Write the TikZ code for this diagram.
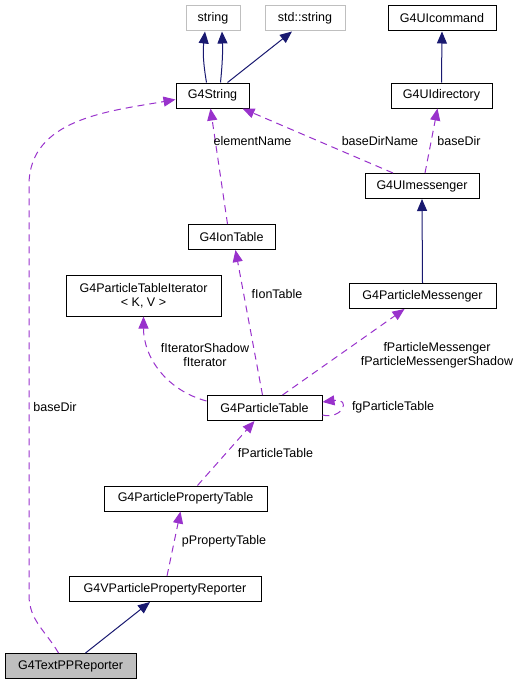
\documentclass[tikz,border=0pt]{standalone}
\usepackage{fontspec}
\setmainfont{Liberation Sans}
\usetikzlibrary{arrows.meta}

\definecolor{inhblue}{RGB}{25,25,112}
\definecolor{usepurple}{RGB}{153,50,204}
\definecolor{extgray}{RGB}{191,191,191}

\tikzset{
	cls/.style={draw=black,line width=1pt,fill=white,minimum height=25pt,inner sep=0pt,font=\fontsize{12.5}{14}\selectfont},
	ext/.style={cls,draw=extgray},
	lbl/.style={inner sep=0pt,align=center,font=\fontsize{12.5}{14}\selectfont},
	inh/.style={draw=inhblue,line width=1pt,->,>={Triangle[length=12pt,width=10pt]}},
	use/.style={draw=usepurple,line width=1pt,dash pattern=on 7pt off 5pt,->,>={Triangle[length=12pt,width=10pt]}}
}

\begin{document}
\begin{tikzpicture}[x=1pt,y=-1pt]
	\useasboundingbox (0,0) rectangle (521,685);

	% classes
	\node[ext,minimum width=54pt] (str) at (213,18.5) {string};
	\node[ext,minimum width=80pt] (stdstr) at (305,18.5) {std::string};
	\node[cls,minimum width=108pt] (uicmd) at (442,18.5) {G4UIcommand};
	\node[cls,minimum width=73pt] (gstr) at (212.5,95.5) {G4String};
	\node[cls,minimum width=101pt] (uidir) at (441.5,95.5) {G4UIdirectory};
	\node[cls,minimum width=114pt] (uimsg) at (422,186) {G4UImessenger};
	\node[cls,minimum width=87pt] (iontab) at (231.5,237) {G4IonTable};
	\node[cls,minimum width=155pt,minimum height=41pt,align=center] (ptiter) at (143.5,295.5) {G4ParticleTableIterator\\< K, V >};
	\node[cls,minimum width=147pt] (pmsg) at (422.5,296) {G4ParticleMessenger};
	\node[cls,minimum width=115pt] (ptab) at (264.5,408) {G4ParticleTable};
	\node[cls,minimum width=163pt] (pproptab) at (185.5,498.5) {G4ParticlePropertyTable};
	\node[cls,minimum width=192pt] (vrep) at (165,589) {G4VParticlePropertyReporter};
	\node[cls,minimum width=131pt,fill=extgray] (tpp) at (70.5,666) {G4TextPPReporter};

	% inheritance
	\draw[inh] ([xshift=-6]gstr.north) to[bend left=8] ([xshift=-8]str.south);
	\draw[inh] ([xshift=8]gstr.north) to[bend right=4] ([xshift=9]str.south);
	\draw[inh] ([xshift=15]gstr.north) -- ([xshift=-13]stdstr.south);
	\draw[inh] (uidir.north) -- (uicmd.south);
	\draw[inh] (pmsg.north) -- (uimsg.south);
	\draw[inh] ([xshift=15]tpp.north) -- ([xshift=-15]vrep.south);

	% usage
	\draw[use] ([xshift=-29]uimsg.north) -- ([xshift=30]gstr.south);
	\draw[use] ([xshift=3]uimsg.north) -- ([xshift=-4]uidir.south);
	\draw[use] ([xshift=-4]iontab.north) -- ([xshift=-2]gstr.south);
	\draw[use] ([xshift=-2]ptab.north) -- ([xshift=4]iontab.south);
	\draw[use] ([yshift=7]ptab.west) to[out=165,in=-90] (ptiter.south);
	\draw[use] ([xshift=18]ptab.north) -- ([xshift=-18]pmsg.south);
	\draw[use] ([yshift=-7]ptab.east) .. controls (342,420) and (352,398) .. ([yshift=6]ptab.east);
	\draw[use] ([xshift=12]pproptab.north) -- ([xshift=-10]ptab.south);
	\draw[use] ([xshift=2]vrep.north) -- ([xshift=-5]pproptab.south);
	\draw[use] ([xshift=-12]tpp.north) to[out=120,in=-90] (29,595) -- (29,185) to[out=90,in=190] ([yshift=-4]gstr.west);

	% labels
	\node[lbl] (lelem) at (252.5,141) {elementName};
	\node[lbl] (lbdn) at (380,141) {baseDirName};
	\node[lbl] (lbdtop) at (459,141) {baseDir};
	\node[lbl] (lion) at (277,294) {fIonTable};
	\node[lbl] (liter) at (205,355) {fIteratorShadow\\fIterator};
	\node[lbl] (lpmsg) at (437,355) {fParticleMessenger\\fParticleMessengerShadow};
	\node[lbl] (lbdleft) at (55,407) {baseDir};
	\node[lbl] (lfg) at (393,407) {fgParticleTable};
	\node[lbl] (lptab) at (275.5,453) {fParticleTable};
	\node[lbl] (lpprop) at (224,541) {pPropertyTable};
\end{tikzpicture}
\end{document}
